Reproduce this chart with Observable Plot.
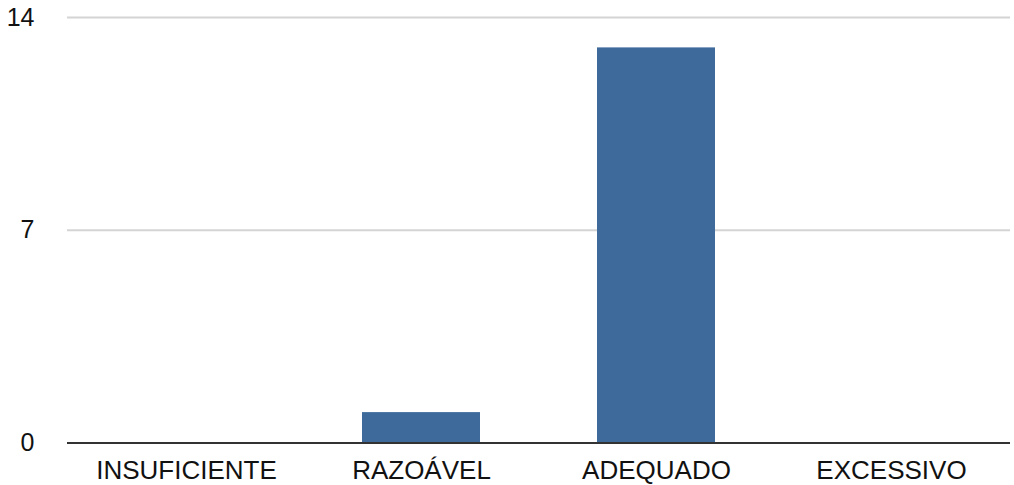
<!DOCTYPE html>
<html>
<head>
<meta charset="utf-8">
<script src="https://cdn.jsdelivr.net/npm/d3@7"></script>
<script src="https://cdn.jsdelivr.net/npm/@observablehq/plot@0.6"></script>
<style>
  html, body { margin: 0; padding: 0; background: #fff; }
</style>
</head>
<body>
<div id="chart"></div>
<script>
const categories = ["INSUFICIENTE", "RAZOÁVEL", "ADEQUADO", "EXCESSIVO"];
const values = [0, 1, 13, 0];
const yTicks = [0, 7, 14];
const gridTicks = [7, 14];

const data = categories.map((c, i) => ({category: c, value: values[i]}));

const chart = Plot.plot({
  width: 1014,
  height: 485,
  marginLeft: 67,
  marginRight: 4,
  marginTop: 17,
  marginBottom: 42.5,
  style: {fontFamily: "'Liberation Sans', Arial, sans-serif", fontSize: "25px", color: "#111", background: "#fff"},
  x: {domain: categories, paddingInner: 0.5, paddingOuter: 0.25},
  y: {domain: [0, 14]},
  marks: [
    Plot.ruleY(gridTicks, {stroke: "#d4d4d4", strokeWidth: 2}),
    Plot.barY(data, {x: "category", y: "value", fill: "#3d6a9b"}),
    Plot.ruleY([0], {stroke: "#333", strokeWidth: 2}),
    Plot.axisX({label: null, tickSize: 0, tickPadding: 18, fontSize: 26}),
    Plot.axisY(yTicks, {label: null, tickSize: 0, tickPadding: 33, fontSize: 25})
  ]
});
document.getElementById("chart").appendChild(chart);
</script>
</body>
</html>
